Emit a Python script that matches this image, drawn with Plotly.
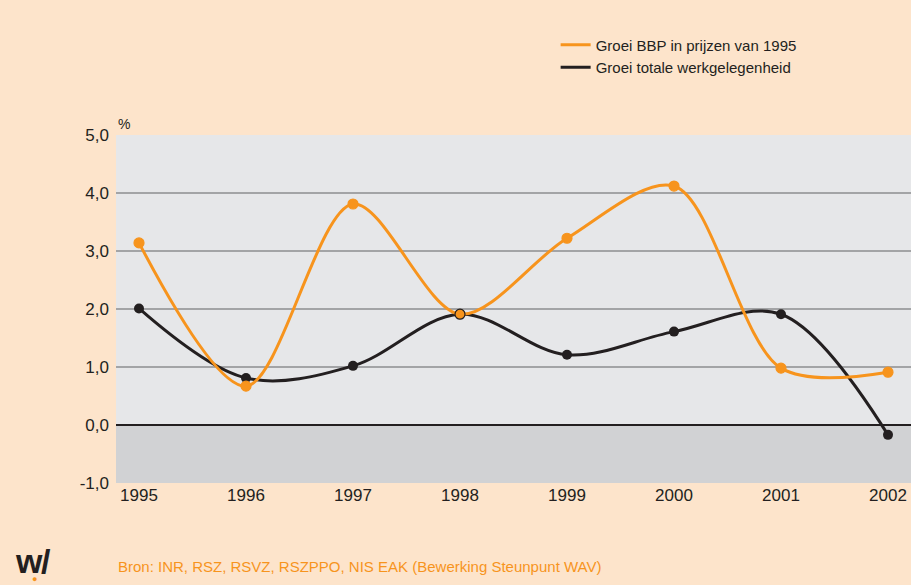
import plotly.graph_objects as go

years = [1995, 1996, 1997, 1998, 1999, 2000, 2001, 2002]
bbp = [3.14, 0.67, 3.81, 1.91, 3.22, 4.12, 0.98, 0.91]
werk = [2.01, 0.81, 1.02, 1.91, 1.21, 1.61, 1.91, -0.17]
ytick_vals = [-1, 0, 1, 2, 3, 4, 5]
ytick_text = ["-1,0", "0,0", "1,0", "2,0", "3,0", "4,0", "5,0"]
xtick_text = ["1995", "1996", "1997", "1998", "1999", "2000", "2001", "2002"]
name_bbp = "Groei BBP in prijzen van 1995"
name_werk = "Groei totale werkgelegenheid"
source = "Bron: INR, RSZ, RSVZ, RSZPPO, NIS EAK (Bewerking Steunpunt WAV)"

ORANGE = "#F7941D"
DARK = "#231F20"
PEACH = "#FDE4CB"
FONT = "Liberation Sans, Arial, sans-serif"

fig = go.Figure()
fig.add_trace(go.Scatter(
    x=years, y=werk, name=name_werk, mode="lines",
    line=dict(color=DARK, width=3, shape="spline", smoothing=1.0),
    legendrank=2,
))
fig.add_trace(go.Scatter(
    x=years, y=werk, name=name_werk, mode="markers", showlegend=False,
    marker=dict(color=DARK, size=10),
))
fig.add_trace(go.Scatter(
    x=years, y=bbp, name=name_bbp, mode="lines",
    line=dict(color=ORANGE, width=3, shape="spline", smoothing=0.9),
    legendrank=1,
))
fig.add_trace(go.Scatter(
    x=years, y=bbp, name=name_bbp, mode="markers", showlegend=False,
    marker=dict(color=ORANGE, size=10,
                line=dict(color=[ORANGE, ORANGE, ORANGE, DARK, ORANGE, ORANGE, ORANGE, ORANGE], width=1.2)),
))

fig.add_shape(type="rect", xref="paper", yref="y", x0=0, x1=1, y0=-1, y1=0,
              fillcolor="#D1D2D4", line_width=0, layer="below")

fig.update_layout(
    width=911, height=585,
    margin=dict(l=116, r=0, t=135, b=102),
    paper_bgcolor=PEACH, plot_bgcolor="#E6E7E9",
    font=dict(family=FONT, color=DARK, size=17),
    showlegend=True,
    legend=dict(x=0.553, y=1.306, xanchor="left", yanchor="top",
                bgcolor="rgba(0,0,0,0)",
                font=dict(family=FONT, size=15, color=DARK),
                itemwidth=30, tracegroupgap=0),
    xaxis=dict(range=[1994.785, 2002.215], tickvals=years, ticktext=xtick_text,
               showgrid=False, zeroline=False, showline=False, ticks="",
               tickfont=dict(size=17)),
    yaxis=dict(range=[-1, 5], tickvals=ytick_vals, ticktext=ytick_text,
               showgrid=True, gridcolor="#A3A4A6", gridwidth=1.5,
               zeroline=True, zerolinecolor=DARK, zerolinewidth=1.5,
               showline=False, ticks="", ticklabelstandoff=6,
               tickfont=dict(size=17)),
    annotations=[
        dict(text="%", xref="paper", yref="paper", x=0.0, y=1.0, xanchor="left", yanchor="bottom",
             showarrow=False, font=dict(size=14, color=DARK), yshift=1),
        dict(text=source, xref="paper", yref="paper", x=0.0, y=-0.24, xanchor="left", yanchor="middle",
             showarrow=False, font=dict(size=15, color=ORANGE)),
        dict(text="<b>w</b>", xref="paper", yref="paper", x=-0.130, y=-0.225, xanchor="left", yanchor="middle",
             showarrow=False, font=dict(family="Liberation Sans", size=34, color=DARK)),
        dict(text="<b>/</b>", xref="paper", yref="paper", x=-0.097, y=-0.225, xanchor="left", yanchor="middle",
             showarrow=False, font=dict(family="Liberation Sans", size=34, color=DARK)),
        dict(text="●", xref="paper", yref="paper", x=-0.108, y=-0.275, xanchor="left", yanchor="middle",
             showarrow=False, font=dict(size=9, color=ORANGE)),
    ],
)

fig.write_html("out.html", config={"displayModeBar": False})
with open("out.html", "r", encoding="utf-8") as f:
    html = f.read()
html = html.replace("<head>", "<head><style>html,body{margin:0;padding:0;overflow:hidden;}</style>", 1)
with open("out.html", "w", encoding="utf-8") as f:
    f.write(html)
